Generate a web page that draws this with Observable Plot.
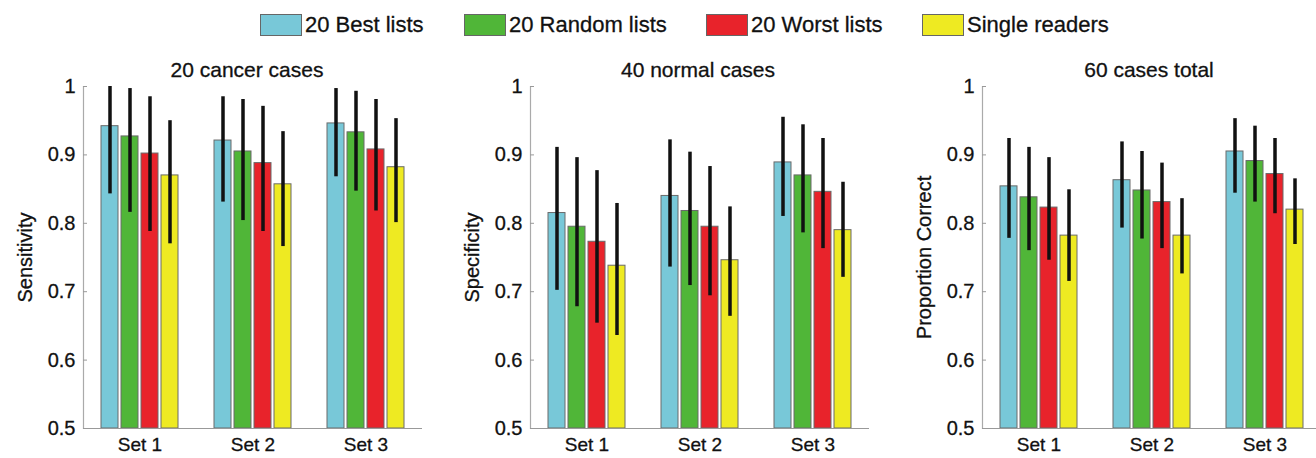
<!DOCTYPE html>
<html><head><meta charset="utf-8">
<script src="https://cdn.jsdelivr.net/npm/d3@7"></script>
<script src="https://cdn.jsdelivr.net/npm/@observablehq/plot@0.6"></script>
<style>
html,body{margin:0;padding:0;background:#fff;}
body{width:1316px;height:458px;overflow:hidden;position:relative;font-family:"Liberation Sans",Arial,Helvetica,sans-serif;color:#111;}
.legend{position:absolute;top:14px;left:0;height:22px;}
.item{position:absolute;top:0;height:22px;display:flex;align-items:center;font-size:22px;white-space:nowrap;-webkit-text-stroke:0.3px #111;}
.sw{width:42px;height:22px;box-sizing:border-box;border:1.5px solid #666;margin-right:3px;}
.title{position:absolute;top:58px;font-size:21px;text-align:center;width:300px;white-space:nowrap;-webkit-text-stroke:0.3px #111;}
.panel{position:absolute;top:76px;}
.panel text{stroke:#111;stroke-width:0.3px;}
</style>
</head><body>
<div class="legend" id="legend"></div>
<div id="panels"></div>
<script>
const sets = ["Set 1", "Set 2", "Set 3"];
const groups = ["20 Best lists", "20 Random lists", "20 Worst lists", "Single readers"];
const groupColors = ["#78c8d8", "#50b638", "#e8232b", "#eeea22"];
const panelTitles = ["20 cancer cases", "40 normal cases", "60 cases total"];
const yLabels = ["Sensitivity", "Specificity", "Proportion Correct"];
const yTicks = [0.5, 0.6, 0.7, 0.8, 0.9, 1];

// values listed Set 1 (Best, Random, Worst, Single), Set 2 (...), Set 3 (...)
const cancerMean = [0.942, 0.927, 0.902, 0.870, 0.921, 0.905, 0.888, 0.857, 0.946, 0.933, 0.908, 0.882];
const cancerLow  = [0.843, 0.816, 0.788, 0.770, 0.831, 0.804, 0.788, 0.766, 0.868, 0.847, 0.818, 0.801];
const cancerHigh = [1.000, 0.997, 0.985, 0.950, 0.985, 0.981, 0.971, 0.934, 0.997, 0.993, 0.981, 0.953];

const normalMean = [0.815, 0.795, 0.773, 0.738, 0.840, 0.818, 0.795, 0.746, 0.889, 0.870, 0.846, 0.790];
const normalLow  = [0.702, 0.678, 0.654, 0.636, 0.736, 0.709, 0.694, 0.664, 0.810, 0.786, 0.763, 0.721];
const normalHigh = [0.911, 0.896, 0.877, 0.829, 0.922, 0.904, 0.883, 0.824, 0.955, 0.944, 0.924, 0.860];

const totalMean = [0.854, 0.838, 0.823, 0.782, 0.863, 0.848, 0.831, 0.782, 0.905, 0.891, 0.872, 0.820];
const totalLow  = [0.778, 0.760, 0.746, 0.715, 0.793, 0.777, 0.763, 0.726, 0.844, 0.831, 0.814, 0.769];
const totalHigh = [0.924, 0.911, 0.896, 0.849, 0.919, 0.905, 0.888, 0.836, 0.953, 0.942, 0.924, 0.865];

const panelData = [
  [cancerMean, cancerLow, cancerHigh],
  [normalMean, normalLow, normalHigh],
  [totalMean, totalLow, totalHigh]
];

// legend
const legendPos = [260, 464, 706, 922];
const legend = document.getElementById("legend");
groups.forEach((g, i) => {
  const it = document.createElement("div");
  it.className = "item";
  it.style.left = legendPos[i] + "px";
  const sw = document.createElement("div");
  sw.className = "sw";
  sw.style.background = groupColors[i];
  it.appendChild(sw);
  const t = document.createElement("span");
  t.textContent = g;
  it.appendChild(t);
  legend.appendChild(it);
});

const panelLeft = [0, 447, 899];
const titleCenter = [247, 698, 1149];
const panels = document.getElementById("panels");

panelData.forEach(([mean, lo, hi], p) => {
  const rows = [];
  sets.forEach((s, si) => groups.forEach((g, gi) => {
    const k = si * groups.length + gi;
    rows.push({set: s, group: g, mean: mean[k], lo: lo[k], hi: hi[k]});
  }));

  const chart = Plot.plot({
    width: 440,
    height: 382,
    marginLeft: 82,
    marginRight: 18,
    marginTop: 10,
    marginBottom: 30,
    style: {fontFamily: '"Liberation Sans", Arial, Helvetica, sans-serif', fontSize: "20px", color: "#111", background: "transparent", overflow: "visible"},
    fx: {domain: sets, padding: 0, label: null},
    x: {domain: groups, axis: null, paddingInner: 0.14, paddingOuter: 0.78},
    y: {domain: [0.5, 1], label: null},
    color: {domain: groups, range: groupColors},
    marks: [
      Plot.barY(rows, {fx: "set", x: "group", y1: 0.5, y2: "mean", fill: "group", stroke: "#6a6a6a", strokeWidth: 1}),
      Plot.ruleX(rows, {fx: "set", x: "group", y1: "lo", y2: "hi", stroke: "#111", strokeWidth: 3.5}),
      Plot.ruleY([0.5], {stroke: "#999", strokeWidth: 1.2}),
      Plot.frame({anchor: "left", facetAnchor: "left", stroke: "#aaa", strokeWidth: 1.2}),
      Plot.axisY(yTicks, {
        tickSize: -4, tickPadding: 12, stroke: "#999",
        tickFormat: d => String(d),
        label: yLabels[p], labelAnchor: "center", labelArrow: "none", labelOffset: 66,
        fontSize: 20
      }),
      Plot.axisFx({anchor: "bottom", tickSize: 0, tickPadding: 9, label: null, fontSize: 19})
    ]
  });
  chart.classList.add("panel");
  chart.style.left = panelLeft[p] + "px";
  panels.appendChild(chart);

  const t = document.createElement("div");
  t.className = "title";
  t.textContent = panelTitles[p];
  t.style.left = (titleCenter[p] - 150) + "px";
  panels.appendChild(t);
});
</script>
</body></html>
